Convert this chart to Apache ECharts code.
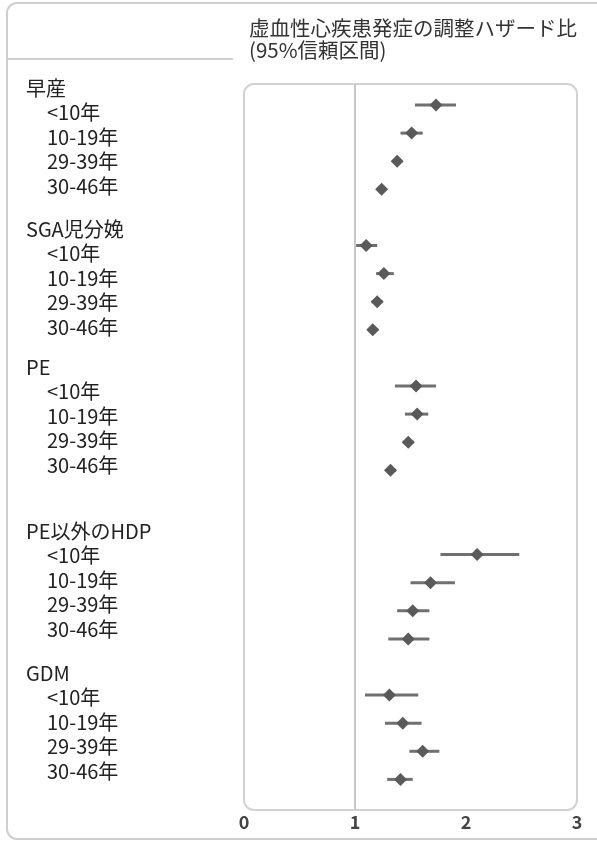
<!DOCTYPE html>
<html>
<head>
<meta charset="utf-8">
<script src="https://cdn.jsdelivr.net/npm/echarts@6/dist/echarts.min.js"></script>
<style>
html,body{margin:0;padding:0;background:#fff;}
#chart{width:597px;height:842px;}
</style>
</head>
<body>
<div id="chart"></div>
<script>
// ---- data ----
const titleText = '虚血性心疾患発症の調整ハザード比\n(95%信頼区間)';
const groups = ['早産', 'SGA児分娩', 'PE', 'PE以外のHDP', 'GDM'];
const periods = ['<10年', '10-19年', '29-39年', '30-46年'];
const hrValues = [
  [1.73, 1.51, 1.38, 1.24],
  [1.10, 1.26, 1.20, 1.16],
  [1.55, 1.56, 1.48, 1.32],
  [2.10, 1.68, 1.52, 1.48],
  [1.31, 1.43, 1.61, 1.41]
];
const ciLower = [
  [1.54, 1.41, 1.34, 1.20],
  [1.01, 1.19, 1.15, 1.12],
  [1.36, 1.45, 1.43, 1.28],
  [1.77, 1.50, 1.38, 1.30],
  [1.09, 1.27, 1.49, 1.29]
];
const ciUpper = [
  [1.91, 1.61, 1.42, 1.28],
  [1.20, 1.35, 1.25, 1.21],
  [1.73, 1.66, 1.53, 1.37],
  [2.48, 1.90, 1.67, 1.67],
  [1.57, 1.60, 1.76, 1.52]
];
const xTicks = [0, 1, 2, 3];
const refValue = 1;

// ---- layout (not data) ----
const extraGapBefore = [0, 0, 0, 1, 0];   // blank row before group
const FONT = 'Noto Sans CJK JP';
const grid = {left: 244, top: 84, width: 333, height: 726};
const labelBlockTops = [88, 229, 367, 531, 673];
const labelStep = 24.6;
const labelFont = '20px "' + FONT + '"';

// build row indices
const scatterData = [], ciData = [];
let row = 0;
groups.forEach((g, gi) => {
  row += extraGapBefore[gi];
  row += 1; // header row
  periods.forEach((p, pi) => {
    row += 1;
    scatterData.push([hrValues[gi][pi], row]);
    ciData.push([ciLower[gi][pi], ciUpper[gi][pi], row]);
  });
});

// label graphics
const graphics = [];
groups.forEach((g, gi) => {
  const top = labelBlockTops[gi];
  graphics.push({type: 'text', silent: true, x: 26, y: top,
    style: {text: g, fill: '#222', font: labelFont, textVerticalAlign: 'middle'}});
  periods.forEach((p, pi) => {
    graphics.push({type: 'text', silent: true,
      x: 47, y: top + (pi + 1) * labelStep,
      style: {text: p, fill: '#222', font: labelFont, textVerticalAlign: 'middle'}});
  });
});

graphics.push({type: 'text', x: 249, y: 17, silent: true,
  style: {text: titleText, fill: '#333', font: '20.5px "' + FONT + '"', lineHeight: 22, textVerticalAlign: 'top'}});
graphics.push({type: 'rect', silent: true, z: -1,
  shape: {x: 7, y: 3, width: 610, height: 836, r: 10},
  style: {fill: 'none', stroke: '#cfcfcf', lineWidth: 2}});
graphics.push({type: 'line', silent: true, z: -1,
  shape: {x1: 7, y1: 59, x2: 233, y2: 59},
  style: {stroke: '#cfcfcf', lineWidth: 2}});
graphics.push({type: 'rect', silent: true, z: -1,
  shape: {x: grid.left, y: grid.top, width: grid.width, height: grid.height, r: 10},
  style: {fill: 'none', stroke: '#d2d2d2', lineWidth: 2}});

const unit = 28.1;
const firstDataRowPx = 105 - grid.top;
const yMin = 2 - firstDataRowPx / unit;
const yMax = yMin + grid.height / unit;

const chart = echarts.init(document.getElementById('chart'), null, {renderer: 'canvas'});
chart.setOption({
  animation: false,
  textStyle: {fontFamily: FONT},
  grid: {left: grid.left, top: grid.top, width: grid.width, height: grid.height, containLabel: false},
  xAxis: {
    type: 'value', min: xTicks[0], max: xTicks[xTicks.length - 1], interval: 1,
    axisLine: {show: false}, axisTick: {show: false}, splitLine: {show: false},
    axisLabel: {fontSize: 18, color: '#444', fontWeight: 'bold', margin: 3, fontFamily: FONT,
      formatter: v => xTicks.includes(v) ? String(v) : ''}
  },
  yAxis: {
    type: 'value', inverse: true, min: yMin, max: yMax,
    show: false
  },
  series: [
    {
      type: 'custom',
      data: ciData,
      encode: {x: [0, 1], y: 2},
      z: 2,
      renderItem: function (params, api) {
        const a = api.coord([api.value(0), api.value(2)]);
        const b = api.coord([api.value(1), api.value(2)]);
        return {type: 'line', shape: {x1: a[0], y1: a[1], x2: b[0], y2: b[1]},
          style: {stroke: '#707070', lineWidth: 3}};
      }
    },
    {
      type: 'scatter',
      data: scatterData,
      symbol: 'diamond',
      symbolSize: 13,
      itemStyle: {color: '#5a5a5a', opacity: 1},
      z: 3,
      markLine: {
        silent: true, symbol: 'none', label: {show: false},
        lineStyle: {color: '#c8c8c8', width: 2, type: 'solid'},
        data: [{xAxis: refValue}]
      }
    }
  ],
  graphic: graphics
});
</script>
</body>
</html>
